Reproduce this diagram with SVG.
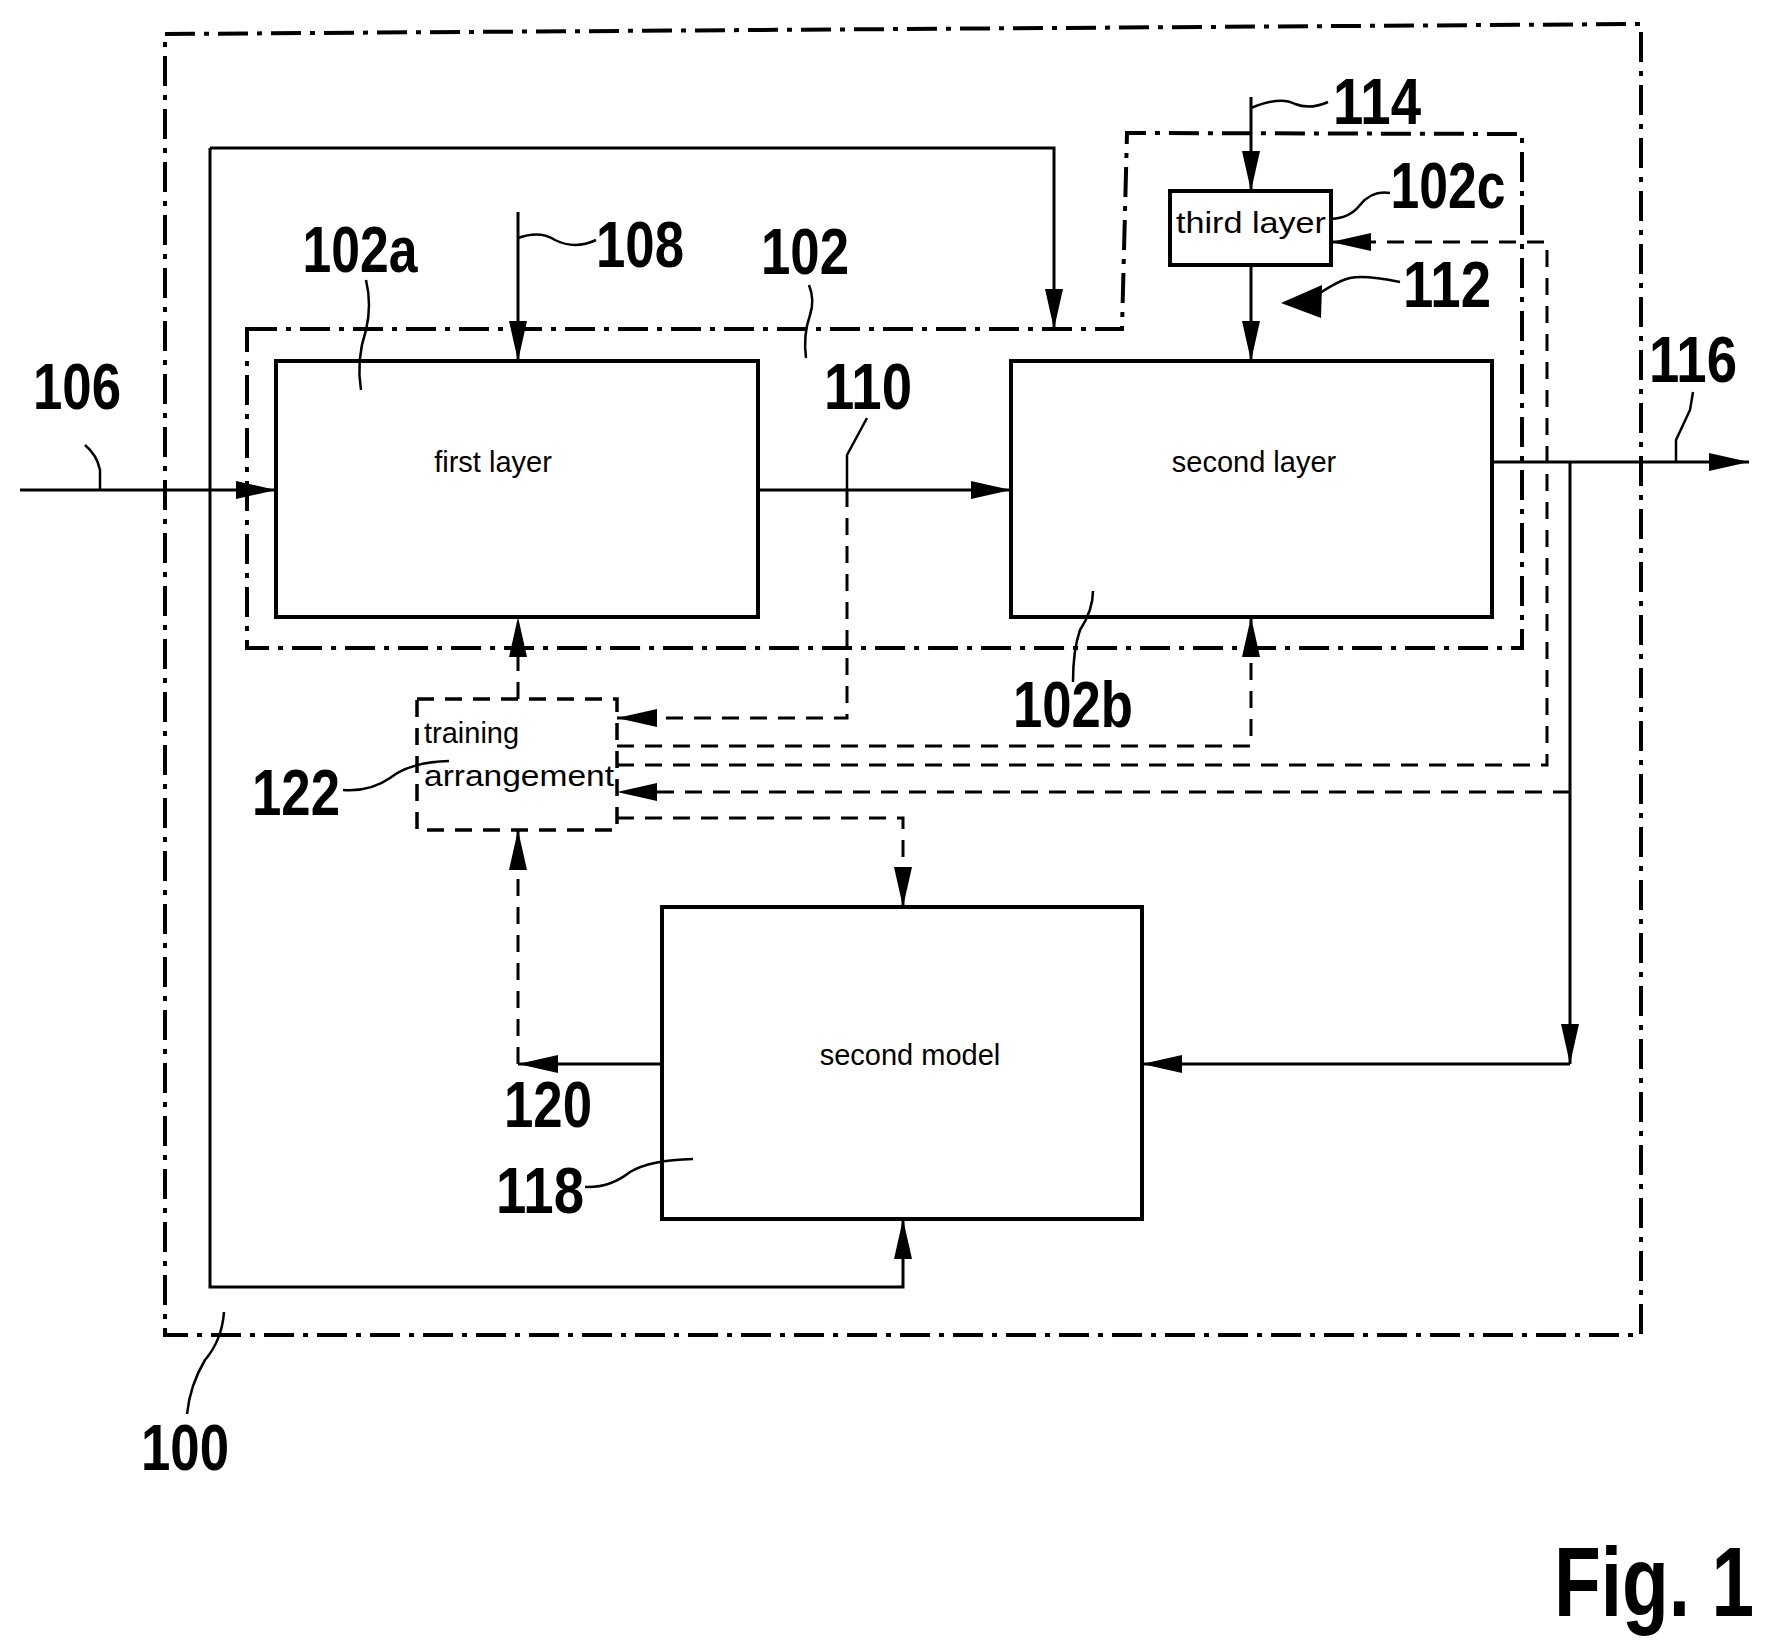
<svg xmlns="http://www.w3.org/2000/svg" width="1772" height="1646" viewBox="0 0 1772 1646">
<style>
.box{fill:#fff;stroke:#000;stroke-width:4}
.dd{fill:none;stroke:#000;stroke-width:4;stroke-dasharray:30 9 5 9}
.ln{fill:none;stroke:#000;stroke-width:3}
.da{fill:none;stroke:#000;stroke-width:3;stroke-dasharray:17 11}
.lead{fill:none;stroke:#000;stroke-width:2.5}
.t{font-family:"Liberation Sans",Arial,sans-serif;font-size:29px;fill:#000;text-anchor:middle}
.n{font-family:"Liberation Sans",Arial,sans-serif;font-weight:bold;font-size:64px;fill:#000;text-anchor:middle}
</style>
<defs>
<marker id="a" viewBox="0 0 40 18" refX="40" refY="9" markerWidth="40" markerHeight="18" markerUnits="userSpaceOnUse" orient="auto"><path d="M0,0 L40,9 L0,18 Z" fill="#000"/></marker>
</defs>
<g id="frames">
<path class="dd" d="M165,34 L1641,24 L1641,1335 L165,1335 Z"/>
<path class="dd" d="M247,329 L1122,329 L1127,133 L1522,134 L1522,648 L247,648 Z"/>
</g>
<g id="connectors">
<path class="ln" d="M20,490 L276,490" marker-end="url(#a)"/>
<path class="ln" d="M758,490 L1011,490" marker-end="url(#a)"/>
<path class="ln" d="M518,212 L518,361" marker-end="url(#a)"/>
<path class="ln" d="M1251,97 L1251,191" marker-end="url(#a)"/>
<path class="ln" d="M1251,265 L1251,361" marker-end="url(#a)"/>
<path class="ln" d="M1492,462 L1749,462" marker-end="url(#a)"/>
<path class="ln" d="M1570,462 L1570,1064" marker-end="url(#a)"/>
<path class="ln" d="M1570,1064 L1142,1064" marker-end="url(#a)"/>
<path class="ln" d="M210,148 L1054,148 L1054,329" marker-end="url(#a)"/>
<path class="ln" d="M210,148 L210,1287 L903,1287 L903,1219" marker-end="url(#a)"/>
<path class="ln" d="M662,1064 L518,1064" marker-end="url(#a)"/>
<path class="da" d="M518,1064 L518,830" marker-end="url(#a)"/>
<path class="da" d="M847,490 L847,718 L617,718" marker-end="url(#a)"/>
<path class="da" d="M518,699 L518,617" marker-end="url(#a)"/>
<path class="da" d="M617,746 L1251,746 L1251,617" marker-end="url(#a)"/>
<path class="da" d="M617,765 L1547,765 L1547,242 L1331,242" marker-end="url(#a)"/>
<path class="da" d="M1570,792 L617,792" marker-end="url(#a)"/>
<path class="da" d="M617,818 L903,818 L903,907" marker-end="url(#a)"/>
<path d="M1281,303 L1322,285 L1321,318 Z" fill="#000"/>
</g>
<g id="first-layer"><rect class="box" x="276" y="361" width="482" height="256"/><text class="t" x="493" y="472">first layer</text></g>
<g id="second-layer"><rect class="box" x="1011" y="361" width="481" height="256"/><text class="t" x="1254" y="472">second layer</text></g>
<g id="third-layer"><rect class="box" x="1170" y="191" width="161" height="74"/><text class="t" x="1251" y="233" textLength="150" lengthAdjust="spacingAndGlyphs">third layer</text></g>
<g id="training"><rect x="417" y="699" width="200" height="131" fill="#fff" stroke="#000" stroke-width="3.5" stroke-dasharray="17 11"/><text class="t" x="424" y="743" style="text-anchor:start">training</text><text class="t" x="424" y="786" style="text-anchor:start" textLength="190" lengthAdjust="spacingAndGlyphs">arrangement</text></g>
<g id="second-model"><rect class="box" x="662" y="907" width="480" height="312"/><text class="t" x="910" y="1065">second model</text></g>
<g id="labels">
<path class="lead" d="M100,490 L100,470 Q97,455 85,445"/>
<path class="lead" d="M361,390 Q356,360 366,330 Q372,305 366,280"/>
<path class="lead" d="M518,238 Q540,230 555,240 Q575,250 596,240"/>
<path class="lead" d="M806,358 Q803,335 810,315 Q815,300 809,285"/>
<path class="lead" d="M847,490 L847,455 L867,418"/>
<path class="lead" d="M1251,108 Q1280,96 1295,104 Q1310,110 1328,102"/>
<path class="lead" d="M1331,219 Q1350,218 1360,205 Q1372,190 1390,193"/>
<path class="lead" d="M1305,295 L1320,293 Q1340,280 1350,278 Q1365,275 1400,282"/>
<path class="lead" d="M1676,462 L1676,440 L1690,410 L1693,392"/>
<path class="lead" d="M1093,591 Q1093,610 1080,630 Q1073,650 1073,682"/>
<path class="lead" d="M343,790 Q370,792 390,778 Q410,762 449,761"/>
<path class="lead" d="M585,1187 Q610,1188 630,1172 Q650,1160 693,1159"/>
<path class="lead" d="M224,1312 Q222,1340 205,1360 Q190,1385 187,1414"/>
<text class="n" x="77" y="409" textLength="88" lengthAdjust="spacingAndGlyphs">106</text>
<text class="n" x="360" y="272" textLength="115" lengthAdjust="spacingAndGlyphs">102a</text>
<text class="n" x="640" y="267" textLength="88" lengthAdjust="spacingAndGlyphs">108</text>
<text class="n" x="805" y="274" textLength="88" lengthAdjust="spacingAndGlyphs">102</text>
<text class="n" x="868" y="409" textLength="88" lengthAdjust="spacingAndGlyphs">110</text>
<text class="n" x="1377" y="124" textLength="88" lengthAdjust="spacingAndGlyphs">114</text>
<text class="n" x="1448" y="208" textLength="115" lengthAdjust="spacingAndGlyphs">102c</text>
<text class="n" x="1447" y="307" textLength="88" lengthAdjust="spacingAndGlyphs">112</text>
<text class="n" x="1693" y="382" textLength="88" lengthAdjust="spacingAndGlyphs">116</text>
<text class="n" x="1073" y="727" textLength="120" lengthAdjust="spacingAndGlyphs">102b</text>
<text class="n" x="296" y="815" textLength="88" lengthAdjust="spacingAndGlyphs">122</text>
<text class="n" x="548" y="1127" textLength="88" lengthAdjust="spacingAndGlyphs">120</text>
<text class="n" x="540" y="1213" textLength="88" lengthAdjust="spacingAndGlyphs">118</text>
<text class="n" x="185" y="1470" textLength="88" lengthAdjust="spacingAndGlyphs">100</text>
<text class="n" x="1554" y="1616" style="text-anchor:start;font-size:98px" textLength="200" lengthAdjust="spacingAndGlyphs">Fig. 1</text>
</g>
</svg>
